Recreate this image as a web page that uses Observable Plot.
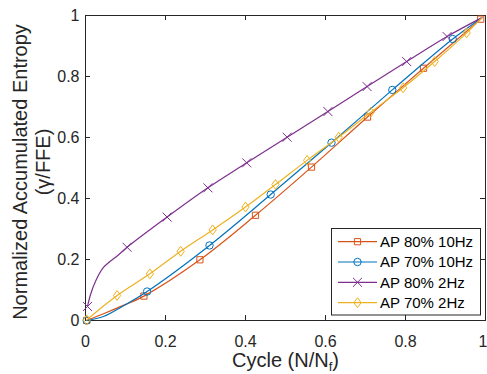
<!DOCTYPE html>
<html><head><meta charset="utf-8">
<script src="https://cdn.jsdelivr.net/npm/d3@7"></script>
<script src="https://cdn.jsdelivr.net/npm/@observablehq/plot@0.6"></script>
<style>body{margin:0;background:#fff;}</style>
</head><body><div id="chart"></div>
<script>
const seriesNames = ["AP 80% 10Hz", "AP 70% 10Hz", "AP 80% 2Hz", "AP 70% 2Hz"];
const seriesColors = ["#D95319", "#0072BD", "#7E2F8E", "#EDB120"];
const xTicks = [0, 0.2, 0.4, 0.6, 0.8, 1];
const yTicks = [0, 0.2, 0.4, 0.6, 0.8, 1];

// marker points
const ap80_10Hz_x = [0.003, 0.146, 0.286, 0.425, 0.565, 0.705, 0.845, 0.988];
const ap80_10Hz_y = [0.000, 0.080, 0.199, 0.345, 0.503, 0.667, 0.827, 0.988];
const ap70_10Hz_x = [0.003, 0.154, 0.310, 0.463, 0.615, 0.767, 0.918];
const ap70_10Hz_y = [0.000, 0.095, 0.246, 0.413, 0.583, 0.756, 0.923];
const ap80_2Hz_x = [0.005, 0.104, 0.204, 0.306, 0.403, 0.504, 0.606, 0.704, 0.803, 0.904];
const ap80_2Hz_y = [0.046, 0.240, 0.339, 0.435, 0.517, 0.601, 0.685, 0.767, 0.849, 0.931];
const ap70_2Hz_x = [0.003, 0.079, 0.161, 0.238, 0.318, 0.400, 0.475, 0.554, 0.633, 0.713, 0.794, 0.873, 0.953];
const ap70_2Hz_y = [0.002, 0.082, 0.153, 0.227, 0.297, 0.372, 0.446, 0.525, 0.601, 0.683, 0.763, 0.849, 0.943];

// extra curve points (between / after markers)
const ap80_10Hz_curveX = [0.045, 0.090];
const ap80_10Hz_curveY = [0.022, 0.047];
const ap70_10Hz_curveX = [0.045, 0.092, 0.991];
const ap70_10Hz_curveY = [0.013, 0.046, 0.993];
const ap80_2Hz_curveX = [0.013, 0.026, 0.0425, 0.059, 0.076, 0.991];
const ap80_2Hz_curveY = [0.087, 0.131, 0.170, 0.191, 0.208, 0.993];
const ap70_2Hz_curveX = [0.991];
const ap70_2Hz_curveY = [0.993];

const markerX = [ap80_10Hz_x, ap70_10Hz_x, ap80_2Hz_x, ap70_2Hz_x];
const markerY = [ap80_10Hz_y, ap70_10Hz_y, ap80_2Hz_y, ap70_2Hz_y];
const curveX = [ap80_10Hz_curveX, ap70_10Hz_curveX, ap80_2Hz_curveX, ap70_2Hz_curveX];
const curveY = [ap80_10Hz_curveY, ap70_10Hz_curveY, ap80_2Hz_curveY, ap70_2Hz_curveY];

// custom symbols (MATLAB-like)
const symTimes = {draw(ctx, size) { const r = Math.sqrt(size / Math.PI) * 1.15; ctx.moveTo(-r, -r); ctx.lineTo(r, r); ctx.moveTo(-r, r); ctx.lineTo(r, -r); }};
const symDiamond = {draw(ctx, size) { const r = Math.sqrt(size / Math.PI); const h = r * 1.3, w = r * 0.95; ctx.moveTo(0, -h); ctx.lineTo(w, 0); ctx.lineTo(0, h); ctx.lineTo(-w, 0); ctx.closePath(); }};
const symSquare = {draw(ctx, size) { const w = Math.sqrt(size) / 2; ctx.rect(-w, -w, 2 * w, 2 * w); }};
const symCircle = {draw(ctx, size) { const r = Math.sqrt(size / Math.PI); ctx.moveTo(r, 0); ctx.arc(0, 0, r, 0, 2 * Math.PI); }};
const symbols = [symSquare, symCircle, symTimes, symDiamond];
const symR = [3.5, 3.7, 3.9, 3.8];

const markerRows = [], curveRows = [];
seriesNames.forEach((name, i) => {
  markerX[i].forEach((x, j) => markerRows.push({s: i, x, y: markerY[i][j]}));
  const pts = markerX[i].map((x, j) => ({s: i, x, y: markerY[i][j]}))
    .concat(curveX[i].map((x, j) => ({s: i, x, y: curveY[i][j]})));
  pts.sort((a, b) => a.x - b.x);
  curveRows.push(...pts);
});

const W = 487, H = 374, mL = 85, mR = 2, mT = 15, mB = 54;
const innerW = W - mL - mR, innerH = H - mT - mB;
const ink = "#262626";
const font = "'Liberation Sans', Arial, Helvetica, sans-serif";

const marks = [
  Plot.frame({stroke: ink, strokeWidth: 1}),
  Plot.tickX(xTicks, {x: d => d, insetTop: innerH - 5, stroke: ink}),
  Plot.tickX(xTicks, {x: d => d, insetBottom: innerH - 5, stroke: ink}),
  Plot.tickY(yTicks, {y: d => d, insetRight: innerW - 5, stroke: ink}),
  Plot.tickY(yTicks, {y: d => d, insetLeft: innerW - 5, stroke: ink}),
  Plot.axisX(xTicks.slice(0, -1), {tickSize: 0, tickPadding: 15, fontSize: 16, fill: ink, tickFormat: d => String(d), label: null}),
  Plot.axisX(xTicks.slice(-1), {tickSize: 0, tickPadding: 15, fontSize: 16, fill: ink, tickFormat: d => String(d), label: null, dx: -2.5}),
  Plot.axisY(yTicks, {tickSize: 0, tickPadding: 6, fontSize: 16, fill: ink, tickFormat: d => String(d), label: null})
];
seriesNames.forEach((name, i) => {
  marks.push(Plot.line(curveRows.filter(d => d.s === i), {x: "x", y: "y", stroke: seriesColors[i], strokeWidth: 1.2, curve: "catmull-rom"}));
  marks.push(Plot.dot(markerRows.filter(d => d.s === i), {x: "x", y: "y", stroke: seriesColors[i], fill: "none", strokeWidth: 1, r: symR[i], symbol: symbols[i]}));
});

const svgNode = Plot.plot({
  width: W, height: H,
  marginLeft: mL, marginRight: mR, marginTop: mT, marginBottom: mB,
  x: {domain: [0, 1]},
  y: {domain: [0, 1]},
  style: {fontFamily: font, color: ink, background: "#fff"},
  marks
});
document.getElementById("chart").appendChild(svgNode);

const svg = d3.select(svgNode);
// x label with subscript
const xl = svg.append("text").attr("x", 285.5).attr("y", 367).attr("text-anchor", "middle")
  .attr("font-size", 20).attr("fill", ink).attr("font-family", font);
xl.append("tspan").text("Cycle (N/N");
xl.append("tspan").attr("font-size", 13).attr("dy", 4).text("f");
xl.append("tspan").attr("dy", -4).text(")");
// y label (two lines)
svg.append("text").attr("transform", "translate(27,172) rotate(-90)").attr("text-anchor", "middle")
  .attr("font-size", 20).attr("fill", ink).attr("font-family", font).text("Normalized Accumulated Entropy");
svg.append("text").attr("transform", "translate(50,162) rotate(-90)").attr("text-anchor", "middle")
  .attr("font-size", 20).attr("fill", ink).attr("font-family", font).text("(γ/FFE)");

// legend
const lg = svg.append("g");
lg.append("rect").attr("x", 331.5).attr("y", 228.5).attr("width", 149).attr("height", 86.5)
  .attr("fill", "#fff").attr("stroke", ink).attr("stroke-width", 1);
const rowY = [241.7, 262, 282.3, 302.7];
seriesNames.forEach((name, i) => {
  const y = rowY[i];
  lg.append("line").attr("x1", 338).attr("x2", 377).attr("y1", y).attr("y2", y)
    .attr("stroke", seriesColors[i]).attr("stroke-width", 1.2);
  lg.append("path").attr("transform", `translate(357.5,${y})`)
    .attr("d", d3.symbol(symbols[i], symR[i] * symR[i] * Math.PI)())
    .attr("fill", "none").attr("stroke", seriesColors[i]).attr("stroke-width", 1);
  lg.append("text").attr("x", 380).attr("y", y).attr("dy", "0.35em").attr("font-size", 15)
    .attr("text-anchor", "start")
    .attr("fill", "#000").attr("font-family", font).text(name);
});
</script>
</body></html>
